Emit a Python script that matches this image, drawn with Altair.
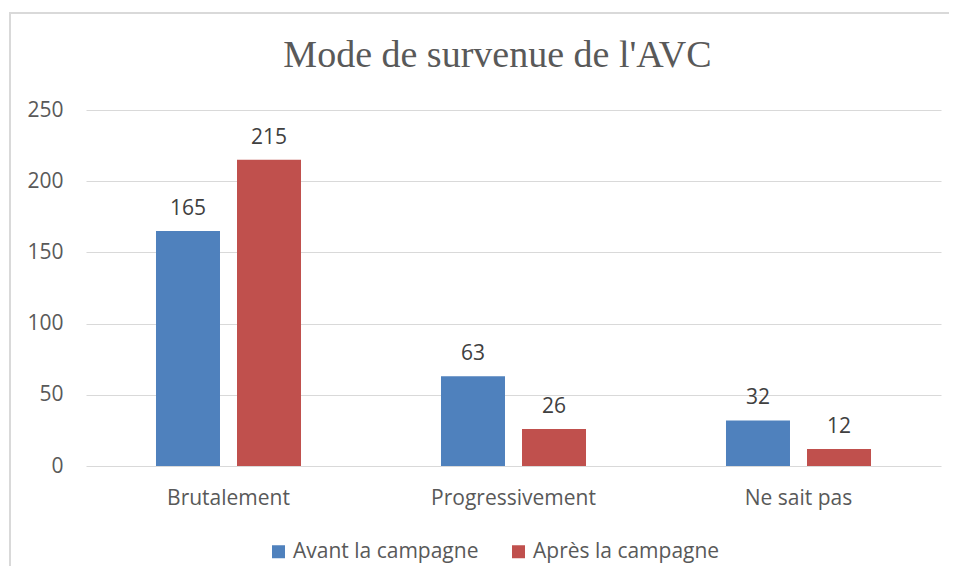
import altair as alt
import pandas as pd

categories = ["Brutalement", "Progressivement", "Ne sait pas"]
series = ["Avant la campagne", "Après la campagne"]
avant = [165, 63, 32]
apres = [215, 26, 12]
y_ticks = [0, 50, 100, 150, 200, 250]
colors = ["#4F81BD", "#C0504D"]

rows = []
for i, c in enumerate(categories):
    rows.append({"cat": c, "serie": series[0], "val": avant[i]})
    rows.append({"cat": c, "serie": series[1], "val": apres[i]})
df = pd.DataFrame(rows)

FONT = "Open Sans"
TXT = "#595959"
FS = 21

x = alt.X("cat:N", sort=categories, title=None,
          scale=alt.Scale(paddingInner=0, paddingOuter=0),
          axis=alt.Axis(labelAngle=0, labelFont=FONT, labelFontSize=FS,
                        labelColor=TXT, labelPadding=21, ticks=False,
                        domain=False, grid=False))
xo = alt.XOffset("serie:N", sort=series,
                 scale=alt.Scale(paddingInner=0.21, paddingOuter=0.864))
y = alt.Y("val:Q", title=None,
          scale=alt.Scale(domain=[0, 250], nice=False),
          axis=alt.Axis(values=y_ticks, labelFont=FONT, labelFontSize=FS,
                        labelColor=TXT, labelPadding=23, ticks=False,
                        domain=False, gridColor="#D9D9D9", gridWidth=1))
color = alt.Color("serie:N", sort=series,
                  scale=alt.Scale(domain=series, range=colors),
                  legend=alt.Legend(title=None, orient="none",
                                    direction="horizontal",
                                    legendX=182, legendY=431,
                                    symbolType="square", symbolSize=169,
                                    symbolStrokeWidth=0, labelLimit=400,
                                    labelFont=FONT, labelFontSize=FS,
                                    labelColor=TXT, columnPadding=29,
                                    labelOffset=4))

bars = alt.Chart(df).mark_bar().encode(x=x, xOffset=xo, y=y, color=color)
labels = alt.Chart(df).mark_text(
    dy=-16, baseline="alphabetic", font=FONT, fontSize=FS, color="#404040"
).encode(x=x, xOffset=xo, y=y, text="val:Q")

frame = alt.Chart(pd.DataFrame({"k": [0]})).mark_rect(
    filled=False, stroke="#D9D9D9", strokeWidth=2
).encode(x=alt.value(-76), x2=alt.value(2000), y=alt.value(-97), y2=alt.value(2000))

chart = alt.layer(frame, bars, labels).properties(
    width=855,
    height=356,
    title=alt.Title("Mode de survenue de l'AVC", font="Liberation Serif",
                    fontSize=38, fontWeight="normal", color=TXT,
                    anchor="middle", frame="group", dx=-16, dy=93, offset=0,
                    baseline="alphabetic"),
    padding={"left": 78, "top": 102, "right": 8, "bottom": 100},
    autosize=alt.AutoSizeParams(type="none"),
).configure_view(stroke=None)

chart.save("out.html", embed_options={"renderer": "svg", "actions": False})
